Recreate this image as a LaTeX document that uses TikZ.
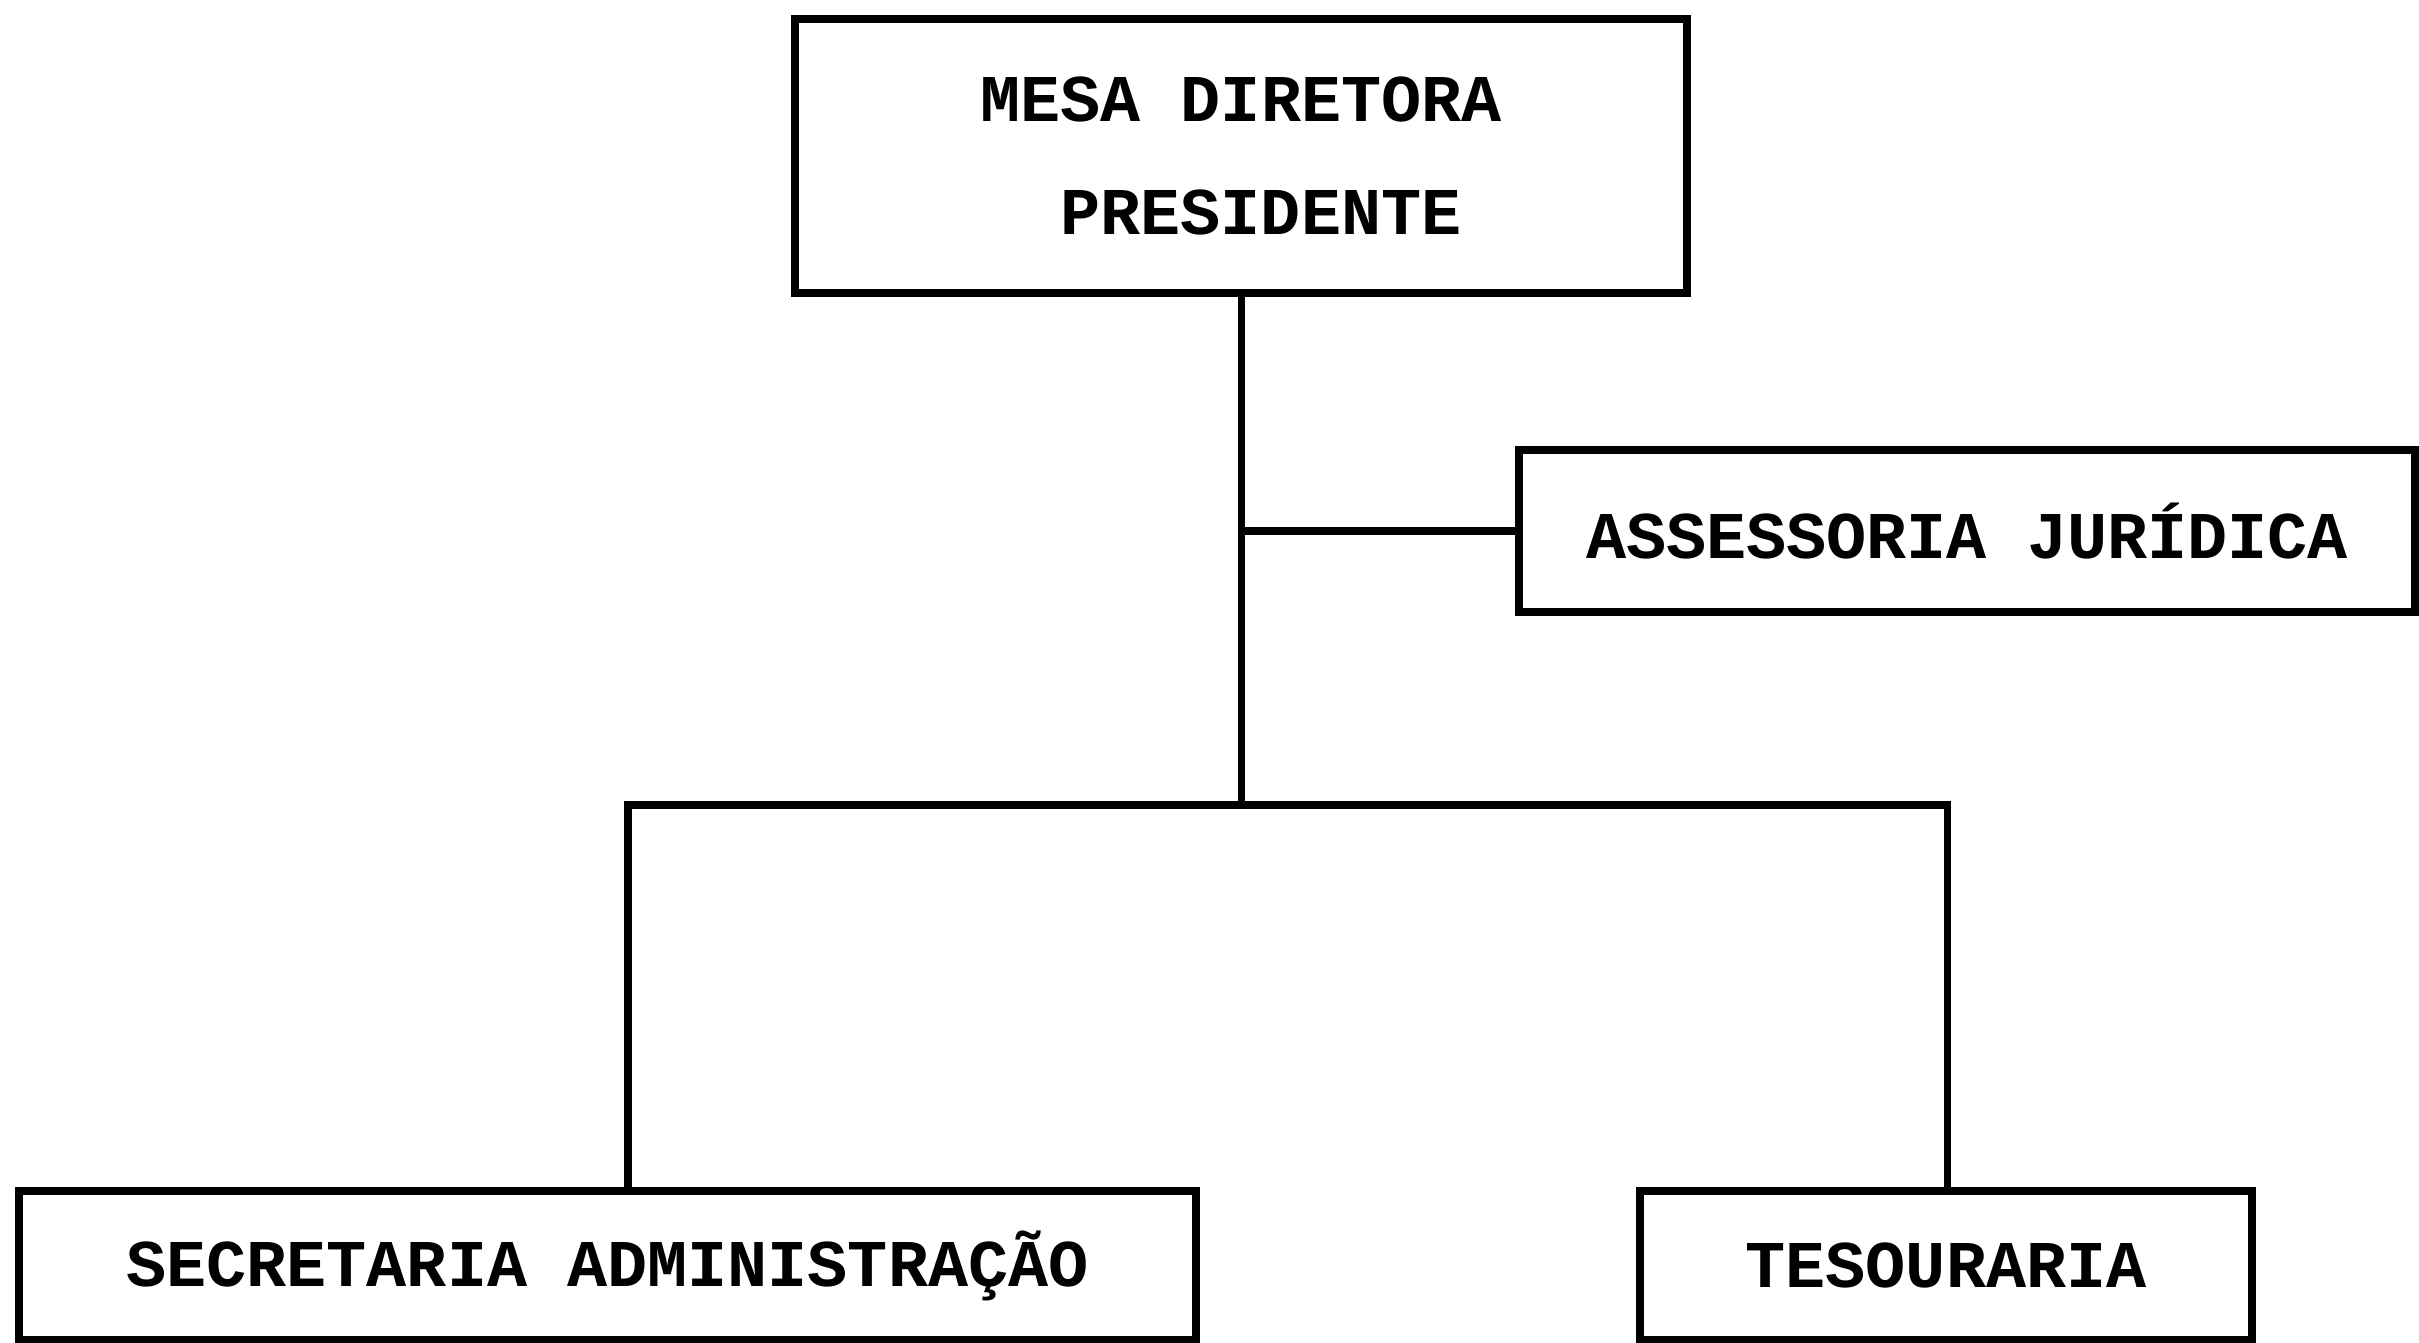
\documentclass[tikz,border=0pt]{standalone}
\usepackage{fontspec}
\setmonofont{Liberation Mono}
\begin{document}
\begin{tikzpicture}[x=0.01cm,y=-0.01cm,
  box/.style={draw, line width=2.2pt, inner sep=0pt,
    font=\fontsize{19}{32}\selectfont\ttfamily\bfseries, align=center},
  link/.style={line width=2pt}]
\useasboundingbox[fill=white] (0,0) rectangle (2419,1343);
\node[box, minimum width=8.91cm, minimum height=2.74cm] (mesa) at (1241,156) {MESA DIRETORA\\\hspace*{0.4cm}PRESIDENTE};
\node[box, minimum width=8.95cm, minimum height=1.62cm] (ass) at (1967,531) {ASSESSORIA JURÍDICA};
\node[box, minimum width=11.77cm, minimum height=1.49cm] (sec) at (607.5,1265.5) {SECRETARIA ADMINISTRAÇÃO};
\node[box, minimum width=6.12cm, minimum height=1.49cm] (tes) at (1946,1265.5) {TESOURARIA};
\coordinate (bl) at (628,805);
\coordinate (br) at (1947,805);
\draw[link] (mesa.south) -- (mesa.south |- bl);
\draw[link] (mesa.south |- ass.west) -- (ass.west);
\draw[link] (bl |- sec.north) -- (bl) -- (br) -- (br |- tes.north);
\end{tikzpicture}
\end{document}
